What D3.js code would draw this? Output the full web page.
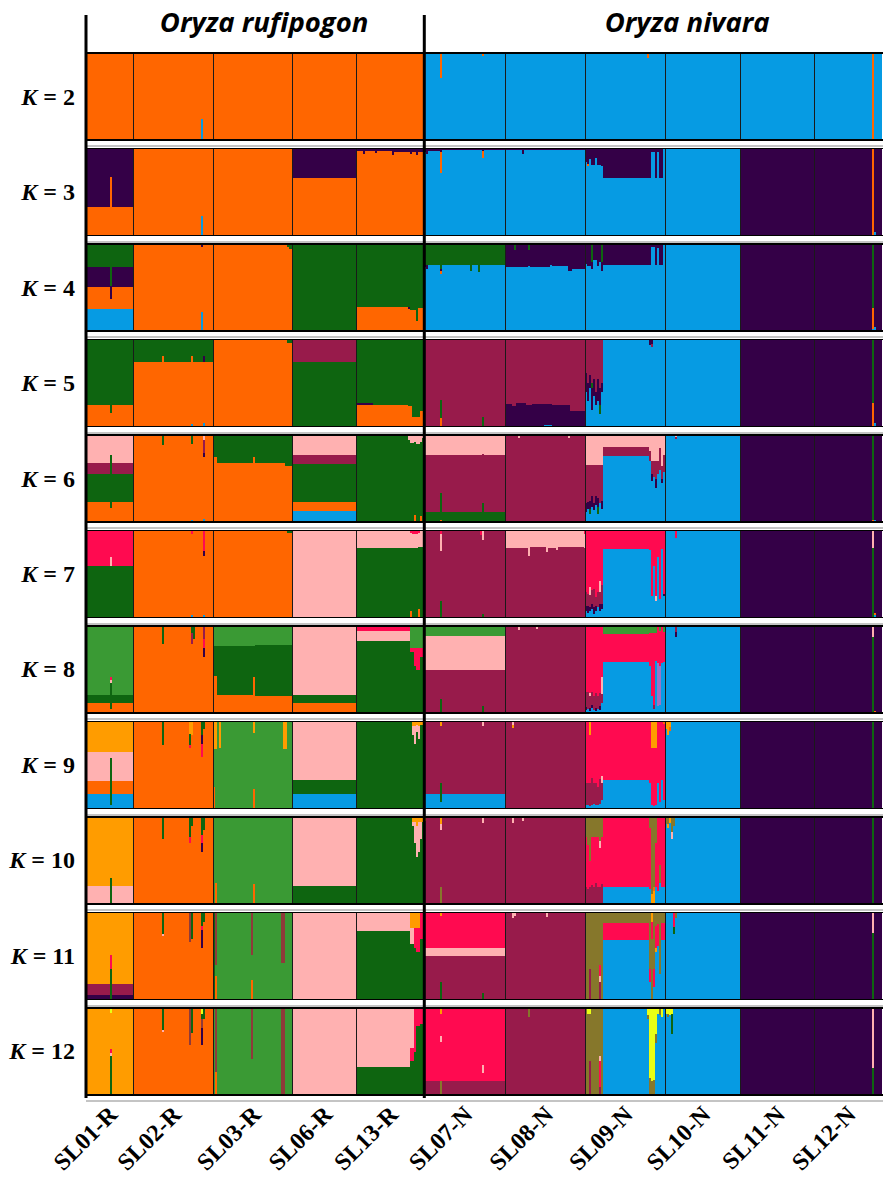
<!DOCTYPE html>
<html><head><meta charset="utf-8">
<script src="https://cdn.jsdelivr.net/npm/d3@7"></script>
<style>html,body{margin:0;padding:0;background:#fff;}svg{display:block;}</style>
</head><body>
<svg id="chart" width="883" height="1181"></svg>
<script>
// ---------------- DATA ----------------
const populations = ["SL01-R","SL02-R","SL03-R","SL06-R","SL13-R","SL07-N","SL08-N","SL09-N","SL10-N","SL11-N","SL12-N"];
const popSizes = [24,40,40,32,34,41,40,40,38,37,34];
const speciesNames = ["Oryza rufipogon","Oryza nivara"];
const speciesPopCount = [5,6];
const kValues = [2,3,4,5,6,7,8,9,10,11,12];
const clusterCodes  = ["O","B","P","G","M","L","R","g","A","V","Y","D","I"];
const clusterColors = ["#ff6600","#069be3","#340047","#0e6510","#981b4b","#ffb1b1","#ff0a50","#3a9a34","#ff9c00","#86772b","#e9ff14","#8f3a3a","#9a74c6"];

// Each population: runs of [number of individuals, "cluster% ..." bottom -> top]
const K2 = [
  [[24,"O100"]],
  [[34,"O100"],[1,"B25 O75"],[5,"O100"]],
  [[40,"O100"]],
  [[32,"O100"]],
  [[34,"O100"]],
  [[8,"B100"],[1,"B72 O28"],[20,"B100"],[1,"B97 O3"],[11,"B100"]],
  [[40,"B100"]],
  [[31,"B100"],[1,"B95 O5"],[8,"B100"]],
  [[38,"B100"]],
  [[37,"B100"]],
  [[29,"B100"],[1,"O100"],[4,"B100"]]
];
const K3 = [
  [[12,"O33 P67"],[1,"O68 P32"],[11,"O33 P67"]],
  [[34,"O100"],[1,"B23 O77"],[5,"O100"]],
  [[40,"O100"]],
  [[32,"O67 P33"]],
  [[3,"O98 P2"],[1,"O94 P6"],[5,"O98 P2"],[1,"O95 P5"],[8,"O98 P2"],[1,"O93 P7"],[8,"O97 P3"],[1,"O94 P6"],[2,"O97 P3"],[1,"O93 P7"],[3,"O96 P4"]],
  [[1,"B96 P4"],[1,"B94 P6"],[6,"B98 P2"],[1,"B72 O25 P3"],[20,"B99 P1"],[1,"B90 O8 P2"],[11,"B99 P1"]],
  [[8,"B99 P1"],[1,"B94 P6"],[31,"B99 P1"]],
  [[1,"B85 P15"],[1,"B80 O3 P17"],[1,"B88 P12"],[2,"B82 P18"],[1,"B90 P10"],[2,"B82 P18"],[1,"B80 P20"],[23,"B66 P34"],[1,"B66 P34"],[2,"B97 P3"],[1,"B66 P34"],[1,"B96 P4"],[2,"B66 P34"],[1,"B100"]],
  [[38,"B100"]],
  [[37,"P100"]],
  [[29,"P100"],[1,"O100"],[1,"B5 P95"],[3,"P100"]]
];
const K4 = [
  [[12,"B26 O25 P23 G26"],[1,"B26 O11 P15 G48"],[11,"B26 O25 P23 G26"]],
  [[34,"O100"],[1,"B22 O75 P3"],[5,"O100"]],
  [[37,"O100"],[1,"O97 G3"],[2,"O95 G5"]],
  [[32,"G100"]],
  [[26,"O28 G72"],[1,"O26 P2 G72"],[3,"O25 G75"],[1,"O12 G88"],[3,"O27 G73"]],
  [[1,"B74 P2 G24"],[1,"B72 P4 G24"],[6,"B76 G24"],[1,"B66 O4 P2 G28"],[14,"B76 G24"],[1,"B70 G30"],[3,"B76 G24"],[1,"B68 G32"],[13,"B76 G24"]],
  [[4,"B74 P26"],[1,"B74 P20 G6"],[6,"B74 P26"],[1,"B75 P19 G6"],[10,"B74 P26"],[1,"B76 P24"],[8,"B75 P25"],[2,"B70 P30"],[7,"B72 P28"]],
  [[1,"B78 P22"],[2,"B75 P25"],[1,"B72 P8 G20"],[2,"B82 P18"],[1,"B75 P25"],[1,"B80 P20"],[1,"B70 P10 G20"],[23,"B76 P24"],[1,"B76 P24"],[2,"B97 P3"],[1,"B76 P24"],[1,"B96 P4"],[2,"B76 P24"],[1,"B100"]],
  [[38,"B100"]],
  [[37,"P100"]],
  [[29,"P100"],[1,"B3 O24 G73"],[1,"B5 P95"],[3,"P100"]]
];
const K5 = [
  [[12,"O25 G75"],[1,"O16 G84"],[11,"O25 G75"]],
  [[14,"O75 G25"],[1,"O82 G18"],[14,"O75 G25"],[1,"B3 O79 G18"],[5,"O75 G25"],[1,"B5 O70 P6 G19"],[4,"O75 G25"]],
  [[37,"O100"],[3,"O97 G3"]],
  [[32,"G75 M25"]],
  [[8,"O25 P2 G73"],[18,"O25 G75"],[2,"O24 G76"],[4,"O11 G89"],[2,"O18 G82"]],
  [[8,"M100"],[1,"O10 G21 M69"],[20,"M100"],[1,"G11 M89"],[11,"M100"]],
  [[3,"P26 M74"],[2,"P24 M76"],[5,"P27 M73"],[3,"P25 M75"],[6,"P26 M74"],[4,"B2 P24 M74"],[9,"P25 M75"],[8,"P18 M82"]],
  [[1,"B40 P22 M38"],[1,"B30 P20 M50"],[1,"B45 P15 M40"],[1,"B20 P25 G5 M50"],[1,"B35 P20 M45"],[1,"B25 P15 M60"],[1,"B30 P25 M45"],[1,"B15 G10 P20 M55"],[1,"B40 P10 M50"],[23,"B100"],[1,"B94 P6"],[1,"B92 M3 P5"],[6,"B100"]],
  [[38,"B100"]],
  [[37,"P100"]],
  [[29,"P100"],[1,"O27 G73"],[1,"B4 P96"],[3,"P100"]]
];
const K6 = [
  [[12,"O24 G32 M12 L32"],[1,"O17 G61 L22"],[11,"O24 G32 M12 L32"]],
  [[14,"O100"],[1,"O89 G11"],[14,"O100"],[1,"B3 O87 G10"],[5,"O100"],[1,"B4 O71 P5 M15 L5"],[4,"O100"]],
  [[2,"O75 G25"],[18,"O68 G32"],[1,"O75 G25"],[15,"O68 G32"],[4,"O65 G35"]],
  [[32,"B13 O11 G43 M11 L22"]],
  [[26,"G100"],[1,"G95 L5"],[2,"G91 L9"],[1,"O8 G84 L8"],[2,"G90 L10"],[1,"O7 G85 L8"],[1,"G97 L3"]],
  [[8,"G12 M66 L22"],[1,"O3 G31 M44 L22"],[20,"G12 M66 L22"],[1,"G22 M57 L21"],[11,"G12 M66 L22"]],
  [[6,"M100"],[1,"M97 L3"],[24,"M100"],[1,"M97 L3"],[8,"M100"]],
  [[1,"B12 P10 M44 L34"],[1,"B15 P8 M43 L34"],[1,"B10 G5 P10 M41 L34"],[1,"B18 P12 M36 L34"],[1,"B14 P8 M44 L34"],[1,"B20 P10 M36 L34"],[1,"B10 G8 P10 M38 L34"],[1,"B22 M44 L34"],[1,"B15 P10 M41 L34"],[23,"B76 M11 L13"],[1,"B70 M12 L18"],[1,"B48 P8 M14 L30"],[1,"B52 M18 L30"],[1,"B40 P10 M20 L30"],[1,"B56 M14 L30"],[1,"B60 M25 L15"],[1,"B45 P5 M15 L35"],[1,"B58 M20 L22"]],
  [[5,"B100"],[1,"B96 M2 L2"],[32,"B100"]],
  [[37,"P100"]],
  [[29,"P100"],[1,"O3 G97"],[1,"B3 P97"],[3,"P100"]]
];
const K7 = [
  [[12,"G60 R40"],[1,"G60 L10 R30"],[11,"G60 R40"]],
  [[29,"O100"],[1,"B3 O93 R4"],[5,"O100"],[1,"B3 O68 P6 R23"],[4,"O100"]],
  [[37,"O100"],[3,"O98 G2"]],
  [[32,"L100"]],
  [[27,"G80 L20"],[1,"O8 G72 L18 R2"],[3,"G80 L17 R3"],[1,"O10 G72 L16 R2"],[2,"G82 L18"]],
  [[8,"M100"],[1,"G19 M58 L19 R4"],[19,"M100"],[1,"M95 R5"],[1,"G5 M85 L10"],[11,"M100"]],
  [[11,"M80 L20"],[1,"M71 L29"],[8,"M81 L19"],[1,"M76 L24"],[4,"M80 L20"],[1,"M78 L22"],[13,"M81 L19"],[1,"M80 L16 R4"]],
  [[1,"B8 P6 M16 R70"],[1,"B6 P8 M14 R72"],[1,"B8 P4 M14 L10 R64"],[1,"B10 P6 M16 R68"],[1,"B5 P8 M20 R67"],[1,"B8 P6 M10 R76"],[1,"B12 M18 R70"],[1,"B8 P8 M14 L12 R58"],[1,"B10 P6 M22 R62"],[23,"B79 R21"],[1,"B78 R22"],[1,"B25 R75"],[1,"B60 R40"],[1,"B20 L5 R75"],[1,"B70 R30"],[1,"B22 R78"],[1,"B79 R21"],[1,"B25 P3 R72"]],
  [[5,"B100"],[1,"B92 R8"],[32,"B100"]],
  [[37,"P100"]],
  [[29,"P100"],[1,"G80 L20"],[1,"B3 O3 P94"],[3,"P100"]]
];
const K8 = [
  [[12,"O12 G9 g79"],[1,"O5 G30 L3 R4 g58"],[11,"O12 G9 g79"]],
  [[14,"O100"],[1,"O80 G20"],[14,"O100"],[1,"O80 M12 G8"],[1,"O85 G15"],[4,"O100"],[1,"O65 P10 R10 M15"],[4,"O100"]],
  [[2,"O43 G35 g22"],[18,"O21 G57 g22"],[1,"O42 G36 g22"],[19,"O20 G59 g21"]],
  [[32,"O12 G9 L79"]],
  [[27,"G83 L12 R5"],[2,"G70 R5 g25"],[1,"G55 R20 g25"],[2,"G50 R25 g25"],[2,"G65 R10 g25"]],
  [[8,"M50 L39 g11"],[1,"G16 M34 L39 g11"],[20,"M50 L39 g11"],[1,"G8 M42 L39 g11"],[11,"M50 L39 g11"]],
  [[6,"M100"],[1,"M96 L4"],[8,"M100"],[1,"M97 L3"],[24,"M100"]],
  [[1,"B4 P3 M18 R75"],[1,"B5 M20 R75"],[1,"B3 P3 M14 L4 R76"],[1,"B6 P4 M15 R75"],[1,"B4 M16 R80"],[1,"B3 P3 M18 R76"],[1,"B5 M15 R80"],[1,"B4 P4 M16 R76"],[1,"B12 M10 L20 R58"],[23,"B59 R32 g9"],[1,"B55 R37 g8"],[1,"B20 R72 g8"],[1,"B5 M5 R82 g8"],[1,"B60 R32 g8"],[1,"B8 I50 R42"],[1,"B10 I45 R40 g5"],[1,"B58 R42"],[1,"B59 R35 g6"]],
  [[5,"B100"],[1,"B88 P6 M6"],[32,"B100"]],
  [[37,"P100"]],
  [[29,"P100"],[1,"G88 L12"],[1,"O3 P97"],[3,"P100"]]
];
const K9 = [
  [[12,"B17 O15 L33 A35"],[1,"B4 G54 L7 A35"],[11,"B17 O15 L33 A35"]],
  [[14,"O100"],[1,"O73 G27"],[13,"O100"],[1,"O70 R4 G12 A14"],[1,"O85 A15"],[4,"O100"],[1,"O60 R15 P10 G15"],[1,"O92 G8"],[4,"O100"]],
  [[1,"O25 g44 A31"],[1,"g69 A31"],[1,"g100"],[1,"g70 A30"],[16,"g100"],[1,"O23 g64 A13"],[14,"g100"],[2,"g69 A31"],[3,"g100"]],
  [[32,"B17 G16 L67"]],
  [[28,"G100"],[1,"G85 L10 A5"],[1,"G75 L20 A5"],[1,"G88 L8 A4"],[1,"G80 L15 A5"],[2,"G97 A3"]],
  [[8,"B17 M83"],[1,"B8 G22 M65 A5"],[20,"B17 M83"],[1,"B17 M78 L5"],[11,"B17 M83"]],
  [[3,"M100"],[1,"M93 A3 L4"],[36,"M100"]],
  [[1,"B5 M25 R70"],[1,"B4 M26 R70"],[1,"B3 M27 R55 A15"],[1,"B5 M30 R65"],[1,"B6 M24 R70"],[1,"B4 M26 R70"],[1,"B5 M20 R75"],[1,"B6 M28 R66"],[1,"B10 M20 L8 R62"],[23,"B33 R67"],[1,"B30 R70"],[1,"B5 R65 A30"],[1,"B3 R67 A30"],[1,"B5 R65 A30"],[1,"B30 R70"],[1,"B8 R92"],[1,"B33 R67"],[1,"B10 R88 O2"]],
  [[1,"B92 A8"],[1,"B85 A15"],[1,"B90 O4 A6"],[35,"B100"]],
  [[37,"P100"]],
  [[29,"P100"],[1,"G100"],[4,"P100"]]
];
const K10 = [
  [[12,"L21 A79"],[1,"G30 A70"],[11,"L21 A79"]],
  [[14,"O100"],[1,"O75 G25"],[13,"O100"],[1,"O70 R8 G22"],[1,"O90 G10"],[4,"O100"],[1,"O60 P10 R10 G20"],[1,"O85 G15"],[4,"O100"]],
  [[1,"g100"],[1,"O25 g75"],[18,"g100"],[1,"O23 g77"],[19,"g100"]],
  [[32,"G21 L79"]],
  [[28,"G100"],[1,"G90 L5 A5"],[1,"G70 L25 A5"],[1,"G55 L35 A10"],[1,"G60 L35 A5"],[1,"G75 L20 A5"],[1,"G95 A5"]],
  [[1,"M96 A4"],[7,"M100"],[1,"V20 M65 L7 A8"],[20,"M100"],[1,"M93 L7"],[11,"M100"]],
  [[3,"M100"],[1,"M93 L7"],[4,"M100"],[1,"M96 L4"],[31,"M100"]],
  [[1,"M20 R57 V23"],[1,"M18 R50 V32"],[1,"M20 R30 V50"],[1,"M22 R55 V23"],[1,"M20 R57 V23"],[1,"M25 R52 V23"],[1,"M20 R57 V23"],[1,"M20 R45 L8 V27"],[1,"M24 R53 V23"],[23,"B20 R80"],[1,"B18 R70 V12"],[1,"A12 V88"],[1,"A15 O5 V80"],[1,"B20 R50 V30"],[1,"B15 R85"],[1,"B25 V20 R55"],[1,"B20 R80"],[1,"B20 R80"]],
  [[1,"B92 V8"],[1,"B88 A4 V8"],[1,"B94 A6"],[1,"B75 L8 V17"],[1,"B90 V10"],[33,"B100"]],
  [[37,"P100"]],
  [[29,"P100"],[1,"G100"],[4,"P100"]]
];
const K11 = [
  [[12,"P6 M12 A82"],[1,"G35 R17 A48"],[11,"P6 M12 A82"]],
  [[14,"O100"],[1,"O74 L2 G24"],[13,"O100"],[1,"O66 D34"],[1,"O70 G30"],[4,"O100"],[1,"O60 P20 R5 G15"],[1,"O90 G10"],[4,"O100"]],
  [[1,"G100"],[1,"O27 g13 D60"],[1,"g100"],[16,"g100"],[1,"O23 g29 D48"],[14,"g100"],[2,"g42 D58"],[4,"g100"]],
  [[32,"L100"]],
  [[27,"G79 L21"],[2,"G64 L19 A17"],[1,"G60 R23 A17"],[2,"G55 R28 A17"],[2,"G70 R30"]],
  [[8,"M51 L9 R40"],[1,"G20 M31 L9 R36 A4"],[20,"M51 L9 R40"],[1,"G8 M43 L9 R40"],[11,"M51 L9 R40"]],
  [[3,"M100"],[1,"M94 L6"],[1,"M96 L4"],[15,"M100"],[1,"M95 L5"],[19,"M100"]],
  [[1,"V100"],[1,"V100"],[1,"M35 V65"],[1,"V100"],[1,"V100"],[1,"V100"],[1,"V100"],[1,"M20 L8 R12 V60"],[1,"V100"],[23,"B69 R19 V12"],[1,"B20 R15 V65"],[1,"V70 R20 A10"],[1,"B15 R20 V65"],[1,"B55 A5 R25 V15"],[1,"B62 R25 V13"],[1,"B30 V70"],[1,"B69 R19 V12"],[1,"B69 R19 V12"]],
  [[4,"B100"],[1,"B76 G8 R16"],[1,"B94 V6"],[32,"B100"]],
  [[37,"P100"]],
  [[29,"P100"],[1,"G77 L23"],[4,"P100"]]
];
const K12 = [
  [[12,"A100"],[1,"G45 L4 R4 A42 Y5"],[11,"A100"]],
  [[14,"O100"],[1,"O73 L2 G25"],[13,"O100"],[1,"O58 D42"],[1,"O72 G28"],[4,"O100"],[1,"O58 P20 D10 G6 Y6"],[1,"O88 G12"],[4,"O100"]],
  [[1,"g100"],[1,"O27 D73"],[1,"g100"],[16,"g100"],[1,"g42 D58"],[14,"g100"],[2,"D100"],[4,"g100"]],
  [[32,"L100"]],
  [[27,"G33 L67"],[2,"G40 R15 L45"],[1,"G50 R50"],[2,"G80 R20"],[2,"G82 R18"]],
  [[8,"M16 R84"],[1,"V16 R45 L7 R25 A7"],[20,"M16 R84"],[1,"M16 R10 L9 R65"],[11,"M16 R84"]],
  [[11,"M100"],[1,"M90 V10"],[28,"M100"]],
  [[1,"V100"],[1,"V94 Y6"],[1,"M40 V54 Y6"],[1,"V100"],[1,"V100"],[1,"V100"],[1,"V100"],[1,"M10 R30 L5 V55"],[1,"V100"],[22,"B100"],[1,"B88 V4 Y8"],[1,"V20 Y80"],[1,"V16 Y84"],[1,"V18 Y82"],[1,"B60 V10 Y30"],[1,"B94 Y6"],[1,"B92 V8"],[1,"B90 Y10"],[1,"B100"]],
  [[1,"B93 Y7"],[1,"B90 V4 Y6"],[1,"B92 Y8"],[1,"B70 G24 Y6"],[34,"B100"]],
  [[37,"P100"]],
  [[29,"P100"],[1,"G31 L69"],[4,"P100"]]
];
const structureRows = [K2,K3,K4,K5,K6,K7,K8,K9,K10,K11,K12];

// ---------------- DRAW ----------------
const svg = d3.select("#chart");
const W = 883;
const totalInd = d3.sum(popSizes);
const x = d3.scaleLinear().domain([0,totalInd]).range([86,882]);
const rowBand = d3.scaleBand().domain(kValues).range([53,1095]).paddingInner(0.089);
const color = d3.scaleOrdinal().domain(clusterCodes).range(clusterColors);
const popStart = d3.cumsum([0].concat(popSizes));

function parseSpec(spec){
  const segs = spec.trim().split(/\s+/).map(t => ({c:t[0], v:+t.slice(1)}));
  const tot = d3.sum(segs, s => s.v);
  return segs.map(s => ({c:s.c, v:s.v/tot}));
}

const plot = svg.append("g");
kValues.forEach((k, ri) => {
  const top = rowBand(k), bottom = top + rowBand.bandwidth();
  const y = d3.scaleLinear().domain([0,1]).range([bottom, top]);
  const g = plot.append("g").attr("shape-rendering","crispEdges");
  const rects = [];
  structureRows[ri].forEach((pop, pi) => {
    let idx = popStart[pi];
    pop.forEach(([n, spec]) => {
      let acc = 0;
      parseSpec(spec).forEach(s => {
        rects.push({x0:idx, x1:idx+n, y0:acc, y1:acc+s.v, c:s.c});
        acc += s.v;
      });
      idx += n;
    });
  });
  g.selectAll("rect").data(rects).join("rect")
    .attr("x", d => x(d.x0))
    .attr("width", d => x(d.x1) - x(d.x0) + 0.4)
    .attr("y", d => y(d.y1))
    .attr("height", d => y(d.y0) - y(d.y1) + 0.4)
    .attr("fill", d => color(d.c));
  g.selectAll("line.sep").data(popStart.slice(1, -1)).join("line")
    .attr("class","sep")
    .attr("x1", d => x(d)).attr("x2", d => x(d))
    .attr("y1", top).attr("y2", bottom)
    .attr("stroke","#1a1a1a").attr("stroke-width",1);
  g.append("rect").attr("x",86).attr("y",top).attr("width",W-86+2).attr("height",bottom-top)
    .attr("fill","none").attr("stroke","#000").attr("stroke-width", ri===0 ? 2.5 : 1.8);
  g.append("line").attr("x1",86).attr("x2",W).attr("y1",bottom+6).attr("y2",bottom+6)
    .attr("stroke","#c4c4c4").attr("stroke-width",2);
  const t = svg.append("text")
    .attr("x",75).attr("y",(top+bottom)/2+8)
    .attr("text-anchor","end")
    .attr("font-family","'Liberation Serif','Times New Roman',serif")
    .attr("font-weight","bold").attr("font-size",24);
  t.append("tspan").attr("font-style","italic").text("K");
  t.append("tspan").text(" = " + k);
});

const lastBottom = rowBand(kValues[kValues.length-1]) + rowBand.bandwidth();
const speciesSplit = popStart[speciesPopCount[0]];
svg.append("line").attr("x1",86).attr("x2",86).attr("y1",15).attr("y2",lastBottom+3)
  .attr("stroke","#000").attr("stroke-width",3);
svg.append("line").attr("x1",x(speciesSplit)).attr("x2",x(speciesSplit)).attr("y1",15).attr("y2",lastBottom+3)
  .attr("stroke","#000").attr("stroke-width",3);

const speciesRanges = [[0, speciesSplit],[speciesSplit, totalInd]];
const titleShift = [9, 34];
speciesNames.forEach((name, i) => {
  svg.append("text")
    .attr("x", (x(speciesRanges[i][0]) + x(speciesRanges[i][1]))/2 + titleShift[i])
    .attr("y", 32)
    .attr("text-anchor","middle")
    .attr("font-family","'Open Sans',sans-serif")
    .attr("font-weight","bold").attr("font-style","italic")
    .attr("font-size",27.5)
    .text(name);
});

populations.forEach((p, i) => {
  const cx = (x(popStart[i]) + x(popStart[i+1]))/2 + 9;
  svg.append("text")
    .attr("transform", `translate(${cx},1116) rotate(-45)`)
    .attr("text-anchor","end")
    .attr("font-family","'Liberation Serif','Times New Roman',serif")
    .attr("font-weight","bold").attr("font-size",24)
    .text(p);
});
</script>
</body></html>
